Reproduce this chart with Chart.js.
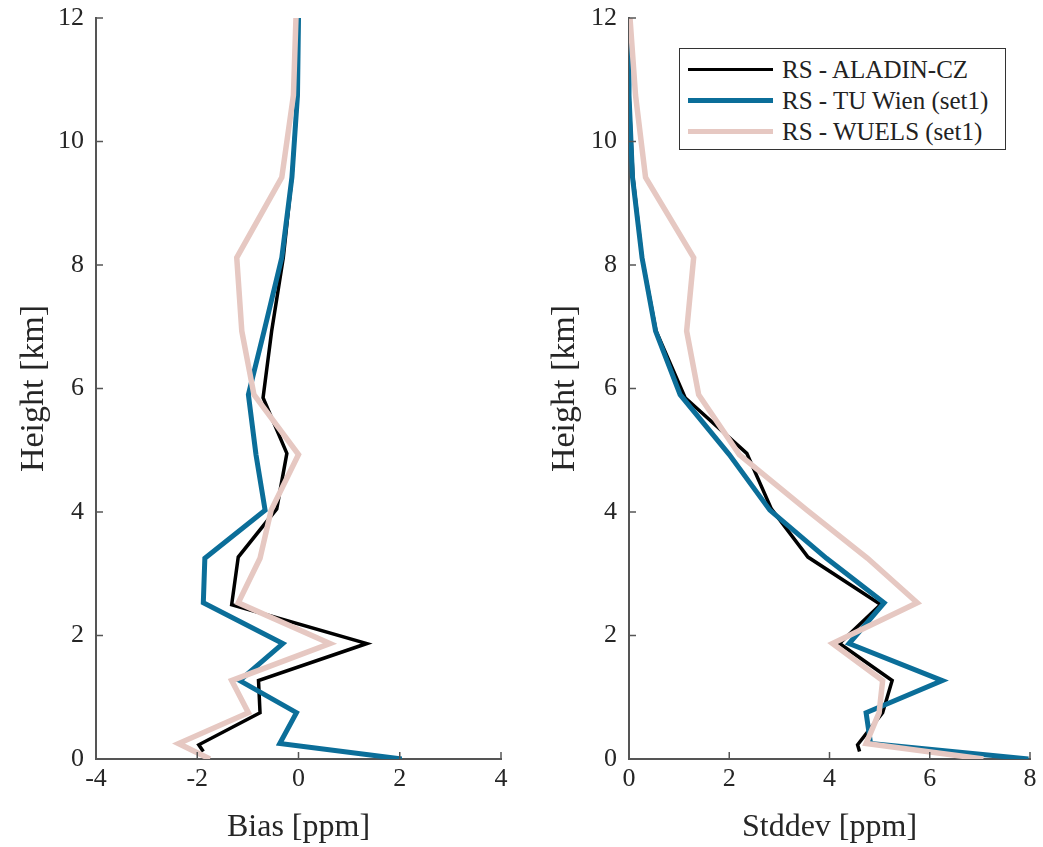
<!DOCTYPE html>
<html lang="en">
<head>
  <meta charset="UTF-8" />
  <meta name="viewport" content="width=device-width, initial-scale=1.0"/>
  <title>Bias / Stddev profiles</title>
  <script src="https://cdn.jsdelivr.net/npm/chart.js"></script>
  <style>
    body, html {
      margin: 0;
      background: #fff;
    }
    #wrap {
      position: relative;
      width: 1043px;
      height: 847px;
    }
    #biasChart { position: absolute; left: 0; top: 0; }
    #stdChart { position: absolute; left: 531px; top: 0; }
    #legend {
      position: absolute;
      left: 679px;
      top: 48px;
      width: 327px;
      height: 102px;
      box-sizing: border-box;
      border: 1.5px solid #333;
      background: #fff;
      padding-top: 5px;
      font-family: "Liberation Serif", "Times New Roman", serif;
      font-size: 25px;
      color: #222;
    }
    .row {
      display: flex;
      align-items: center;
      height: 31px;
      padding-left: 8px;
    }
    .sample {
      width: 85px;
      margin-right: 9px;
    }
  </style>
</head>
<body>
  <div id="wrap">
    <canvas id="biasChart" width="521" height="847"></canvas>
    <canvas id="stdChart" width="512" height="847"></canvas>
    <div id="legend"></div>
  </div>

  <script>
    // height levels [km]; the ALADIN profile starts a little above ground
    const heightKm       = [0, 0.25, 0.75, 1.27, 1.87, 2.53, 3.25, 4.03, 4.93, 5.9, 6.93, 8.12, 9.42, 10.75, 12];
    const heightKmAladin = [0.12, 0.23, 0.75, 1.27, 1.87, 2.5, 3.27, 4.05, 4.95, 5.85, 6.93, 8.12, 9.42, 10.75, 12];

    // bias [ppm]
    const biasAladin = [-1.88, -1.97, -0.76, -0.79, 1.35, -1.32, -1.19, -0.43, -0.23, -0.70, -0.53, -0.30, -0.13, -0.02, 0];
    const biasTuWien = [2.04, -0.37, -0.04, -1.16, -0.31, -1.88, -1.85, -0.66, -0.84, -0.99, -0.68, -0.33, -0.13, -0.02, 0];
    const biasWuels  = [-1.75, -2.37, -0.99, -1.32, 0.62, -1.19, -0.76, -0.54, 0.0, -0.88, -1.12, -1.22, -0.33, -0.10, -0.05];

    // standard deviation [ppm]
    const stdAladin = [4.6, 4.56, 5.06, 5.25, 4.2, 5.02, 3.57, 2.84, 2.35, 1.12, 0.54, 0.26, 0.08, 0.0, 0];
    const stdTuWien = [7.97, 4.82, 4.73, 6.25, 4.39, 5.09, 3.94, 2.81, 2.0, 1.02, 0.53, 0.26, 0.07, 0, 0];
    const stdWuels  = [7.07, 4.73, 4.99, 5.06, 4.06, 5.75, 4.76, 3.55, 2.2, 1.39, 1.15, 1.29, 0.33, 0.13, 0.02];

    const seriesNames = ['RS - ALADIN-CZ', 'RS - TU Wien (set1)', 'RS - WUELS (set1)'];
    const heightTicks = [0, 2, 4, 6, 8, 10, 12];

    const serif = '"Liberation Serif", "Times New Roman", serif';
    const textColor = '#262626';
    const axisColor = '#555';

    const styles = [
      { color: '#000000', width: 3.5, order: 3 },
      { color: '#0b6e99', width: 5, order: 2 },
      { color: '#e6c8c2', width: 5.5, order: 1 }
    ];

    const toPoints = (xs, hs) => xs.map((v, i) => ({ x: v, y: hs[i] }));

    function makeDatasets(a, b, c) {
      const cols = [toPoints(a, heightKmAladin), toPoints(b, heightKm), toPoints(c, heightKm)];
      return cols.map((pts, i) => ({
        label: seriesNames[i],
        data: pts,
        showLine: true,
        borderColor: styles[i].color,
        backgroundColor: styles[i].color,
        borderWidth: styles[i].width,
        pointRadius: 0,
        tension: 0,
        order: styles[i].order
      }));
    }

    // MATLAB-style tick marks pointing into the plot
    const inwardTicks = {
      id: 'inwardTicks',
      afterDraw(chart) {
        const { ctx, chartArea } = chart;
        const xs = chart.scales.x, ys = chart.scales.y;
        ctx.save();
        ctx.strokeStyle = axisColor;
        ctx.lineWidth = 1.5;
        ctx.beginPath();
        xs.ticks.forEach(t => {
          const px = xs.getPixelForValue(t.value);
          ctx.moveTo(px, chartArea.bottom);
          ctx.lineTo(px, chartArea.bottom - 7);
        });
        ys.ticks.forEach(t => {
          const py = ys.getPixelForValue(t.value);
          ctx.moveTo(chartArea.left, py);
          ctx.lineTo(chartArea.left + 7, py);
        });
        ctx.stroke();
        ctx.restore();
      }
    };

    function makeChart(id, datasets, xMin, xMax, xTitle, yWidth, rightPad) {
      return new Chart(document.getElementById(id), {
        type: 'scatter',
        data: { datasets },
        options: {
          responsive: false,
          animation: false,
          layout: { padding: { top: 18, right: rightPad, left: 0, bottom: 0 } },
          plugins: { legend: { display: false }, tooltip: { enabled: false } },
          scales: {
            x: {
              type: 'linear',
              min: xMin,
              max: xMax,
              grid: { display: false, drawTicks: false },
              border: { display: true, color: axisColor, width: 2 },
              ticks: {
                stepSize: 2,
                padding: 5,
                color: textColor,
                font: { family: serif, size: 26 }
              },
              title: {
                display: true,
                text: xTitle,
                color: textColor,
                font: { family: serif, size: 32 },
                padding: { top: 0, bottom: 0 }
              },
              afterFit: s => { s.height = 88; s.paddingLeft = 0; s.paddingRight = 0; }
            },
            y: {
              type: 'linear',
              min: 0,
              max: 12,
              afterBuildTicks: s => { s.ticks = heightTicks.map(v => ({ value: v })); },
              grid: { display: false, drawTicks: false },
              border: { display: true, color: axisColor, width: 2 },
              ticks: {
                padding: 12,
                color: textColor,
                font: { family: serif, size: 26 }
              },
              title: {
                display: true,
                text: 'Height [km]',
                color: textColor,
                font: { family: serif, size: 34 },
                padding: { top: 14, bottom: 0 }
              },
              afterFit: s => { s.width = yWidth; s.paddingTop = 0; s.paddingBottom = 0; }
            }
          }
        },
        plugins: [inwardTicks]
      });
    }

    const biasChart = makeChart('biasChart', makeDatasets(biasAladin, biasTuWien, biasWuels),
      -4, 4, 'Bias [ppm]', 96, 20);
    const stdChart = makeChart('stdChart', makeDatasets(stdAladin, stdTuWien, stdWuels),
      0, 8, 'Stddev [ppm]', 98, 13);

    // legend box inside the right panel
    const legend = document.getElementById('legend');
    stdChart.data.datasets.forEach(ds => {
      const row = document.createElement('div');
      row.className = 'row';
      const line = document.createElement('span');
      line.className = 'sample';
      line.style.borderTop = ds.borderWidth + 'px solid ' + ds.borderColor;
      const label = document.createElement('span');
      label.textContent = ds.label;
      row.appendChild(line);
      row.appendChild(label);
      legend.appendChild(row);
    });
  </script>
</body>
</html>
